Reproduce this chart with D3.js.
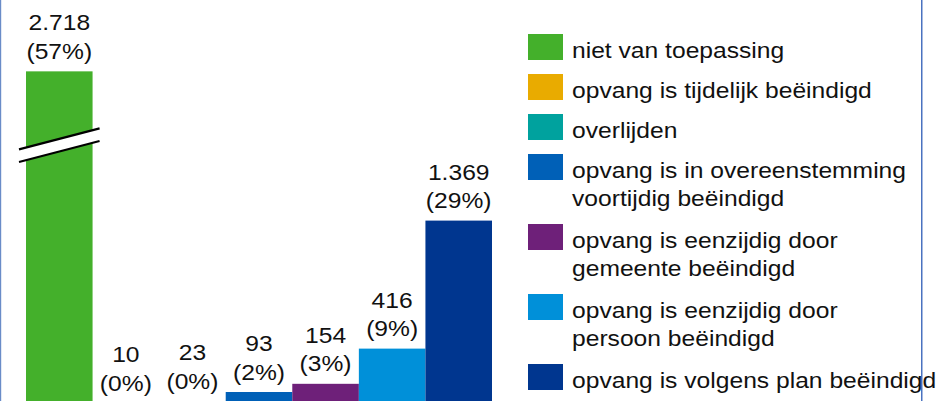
<!DOCTYPE html>
<html>
<head>
<meta charset="utf-8">
<script src="https://cdn.jsdelivr.net/npm/d3@7"></script>
<style>
  html, body { margin: 0; padding: 0; background: #fff; }
  svg { display: block; font-family: "Liberation Sans", Arial, sans-serif; }
</style>
</head>
<body>
<svg width="936" height="401"></svg>
<script>
// data
const categories = [
	"niet van toepassing",
	"opvang is tijdelijk beëindigd",
	"overlijden",
	"opvang is in overeenstemming voortijdig beëindigd",
	"opvang is eenzijdig door gemeente beëindigd",
	"opvang is eenzijdig door persoon beëindigd",
	"opvang is volgens plan beëindigd"
];
const values = [2718, 10, 23, 93, 154, 416, 1369];
const percentages = ["57%", "0%", "0%", "2%", "3%", "9%", "29%"];
const colors = ["#44b02b", "#e9ab00", "#00a29e", "#0060b7", "#6e2079", "#0090d9", "#00368f"];
const legendLines = [
	["niet van toepassing"],
	["opvang is tijdelijk beëindigd"],
	["overlijden"],
	["opvang is in overeenstemming", "voortijdig beëindigd"],
	["opvang is eenzijdig door", "gemeente beëindigd"],
	["opvang is eenzijdig door", "persoon beëindigd"],
	["opvang is volgens plan beëindigd"]
];

// de eerste balk is onderbroken
const breakCap = 2480,
	breakAt = 1930;

const svg = d3.select("svg"),
	width = +svg.attr("width"),
	height = +svg.attr("height"),
	fontSize = 22,
	stretch = 1.12;

const nl = d3.formatLocale({decimal: ",", thousands: ".", grouping: [3], currency: ["€", ""]});
const fmt = nl.format(",");

const x = d3.scaleBand()
	.domain(categories)
	.range([26, 492])
	.padding(0);

const y = d3.scaleLinear()
	.domain([0, 3000])
	.range([404.5, 1.5]);

const color = d3.scaleOrdinal().domain(categories).range(colors);

// kaderlijnen
svg.append("rect").attr("x", 0).attr("y", 0).attr("width", 1.2).attr("height", height).attr("fill", "#6a8cc8");
svg.append("rect").attr("x", 921).attr("y", 0).attr("width", 1.5).attr("height", height).attr("fill", "#4a72c0");

const rows = categories.map((c, i) => ({cat: c, value: values[i], pct: percentages[i], lines: legendLines[i]}));

// balken
svg.append("g").selectAll("rect")
	.data(rows)
	.enter().append("rect")
	.attr("x", d => x(d.cat))
	.attr("y", d => y(Math.min(d.value, breakCap)))
	.attr("width", x.bandwidth())
	.attr("height", d => y(0) - y(Math.min(d.value, breakCap)))
	.attr("fill", d => color(d.cat));

// onderbreking
rows.filter(d => d.value > breakCap).forEach(d => {
	const x0 = x(d.cat) - 7,
		x1 = x(d.cat) + x.bandwidth() + 7,
		yc = y(breakAt),
		slope = 10.5,
		gap = 6.3;
	svg.append("path")
		.attr("d", `M${x0},${yc - gap + slope}L${x1},${yc - gap - slope}L${x1},${yc + gap - slope}L${x0},${yc + gap + slope}Z`)
		.attr("fill", "#fff");
	[-gap, gap].forEach(o => {
		svg.append("line")
			.attr("x1", x0).attr("y1", yc + o + slope)
			.attr("x2", x1).attr("y2", yc + o - slope)
			.attr("stroke", "#000")
			.attr("stroke-width", 2.2);
	});
});

// waardelabels
const labels = svg.append("g").selectAll("g")
	.data(rows)
	.enter().append("g");

labels.append("text")
	.attr("transform", d => `translate(${x(d.cat) + x.bandwidth() / 2},${y(Math.min(d.value, breakCap)) - 41}) scale(${stretch},1)`)
	.attr("text-anchor", "middle")
	.attr("font-size", fontSize)
	.attr("fill", "#111")
	.text(d => fmt(d.value));

labels.append("text")
	.attr("transform", d => `translate(${x(d.cat) + x.bandwidth() / 2},${y(Math.min(d.value, breakCap)) - 12.5}) scale(${stretch},1)`)
	.attr("text-anchor", "middle")
	.attr("font-size", fontSize)
	.attr("fill", "#111")
	.text(d => "(" + d.pct + ")");

// legenda
const legend = svg.append("g").attr("class", "legend");
let ly = 34;
rows.forEach(d => {
	legend.append("rect")
		.attr("x", 528)
		.attr("y", ly)
		.attr("width", 35)
		.attr("height", 26)
		.attr("fill", color(d.cat));
	d.lines.forEach((t, j) => {
		legend.append("text")
			.attr("transform", `translate(572,${ly + 24 + j * 28}) scale(${stretch},1)`)
			.attr("font-size", fontSize)
			.attr("fill", "#111")
			.text(t);
	});
	ly += 40 + 30 * (d.lines.length - 1);
});
</script>
</body>
</html>
